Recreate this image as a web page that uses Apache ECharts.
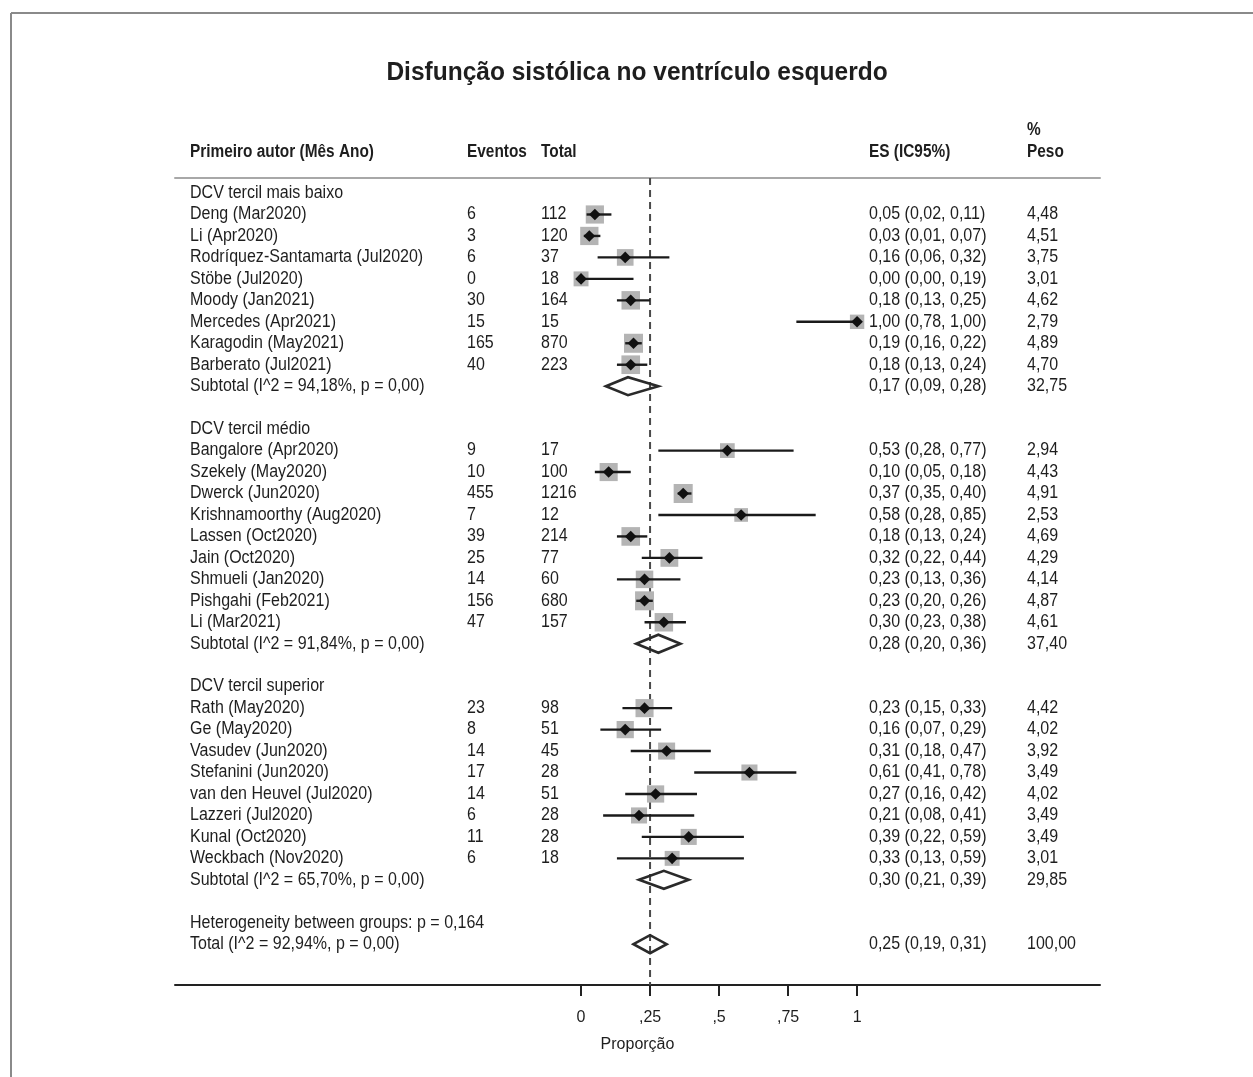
<!DOCTYPE html>
<html>
<head>
<meta charset="utf-8">
<script src="https://cdn.jsdelivr.net/npm/echarts@6/dist/echarts.min.js"></script>
<style>
html,body{margin:0;padding:0;background:#fff;}
#chart{width:1253px;height:1077px;}
</style>
</head>
<body>
<div id="chart"></div>
<script>
// ---------- DATA ----------
const chartTitle = 'Disfunção sistólica no ventrículo esquerdo';
const headerLabels = ['Primeiro autor (Mês Ano)', 'Eventos', 'Total', 'ES (IC95%)', '%', 'Peso'];
const axisName = 'Proporção';
const tickValues = [0, 0.25, 0.5, 0.75, 1];
const tickLabels = ['0', ',25', ',5', ',75', '1'];

const groupTitles = ['DCV tercil mais baixo', 'DCV tercil médio', 'DCV tercil superior'];

const studyNames = [
  'Deng (Mar2020)', 'Li (Apr2020)', 'Rodríquez-Santamarta (Jul2020)', 'Stöbe (Jul2020)',
  'Moody (Jan2021)', 'Mercedes (Apr2021)', 'Karagodin (May2021)', 'Barberato (Jul2021)',
  'Bangalore (Apr2020)', 'Szekely (May2020)', 'Dwerck (Jun2020)', 'Krishnamoorthy (Aug2020)',
  'Lassen (Oct2020)', 'Jain (Oct2020)', 'Shmueli (Jan2020)', 'Pishgahi (Feb2021)', 'Li (Mar2021)',
  'Rath (May2020)', 'Ge (May2020)', 'Vasudev (Jun2020)', 'Stefanini (Jun2020)',
  'van den Heuvel (Jul2020)', 'Lazzeri (Jul2020)', 'Kunal (Oct2020)', 'Weckbach (Nov2020)'
];
const studyGroup = [0,0,0,0,0,0,0,0, 1,1,1,1,1,1,1,1,1, 2,2,2,2,2,2,2,2];
const events  = [6, 3, 6, 0, 30, 15, 165, 40,  9, 10, 455, 7, 39, 25, 14, 156, 47,  23, 8, 14, 17, 14, 6, 11, 6];
const totals  = [112, 120, 37, 18, 164, 15, 870, 223,  17, 100, 1216, 12, 214, 77, 60, 680, 157,  98, 51, 45, 28, 51, 28, 28, 18];
const es      = [0.05, 0.03, 0.16, 0.00, 0.18, 1.00, 0.19, 0.18,  0.53, 0.10, 0.37, 0.58, 0.18, 0.32, 0.23, 0.23, 0.30,  0.23, 0.16, 0.31, 0.61, 0.27, 0.21, 0.39, 0.33];
const lowerCI = [0.02, 0.01, 0.06, 0.00, 0.13, 0.78, 0.16, 0.13,  0.28, 0.05, 0.35, 0.28, 0.13, 0.22, 0.13, 0.20, 0.23,  0.15, 0.07, 0.18, 0.41, 0.16, 0.08, 0.22, 0.13];
const upperCI = [0.11, 0.07, 0.32, 0.19, 0.25, 1.00, 0.22, 0.24,  0.77, 0.18, 0.40, 0.85, 0.24, 0.44, 0.36, 0.26, 0.38,  0.33, 0.29, 0.47, 0.78, 0.42, 0.41, 0.59, 0.59];
const weights = [4.48, 4.51, 3.75, 3.01, 4.62, 2.79, 4.89, 4.70,  2.94, 4.43, 4.91, 2.53, 4.69, 4.29, 4.14, 4.87, 4.61,  4.42, 4.02, 3.92, 3.49, 4.02, 3.49, 3.49, 3.01];

const subtotalLabels  = ['Subtotal (I^2 = 94,18%, p = 0,00)', 'Subtotal (I^2 = 91,84%, p = 0,00)', 'Subtotal (I^2 = 65,70%, p = 0,00)'];
const subtotalES      = [0.17, 0.28, 0.30];
const subtotalLower   = [0.09, 0.20, 0.21];
const subtotalUpper   = [0.28, 0.36, 0.39];
const subtotalWeights = [32.75, 37.40, 29.85];

const heterogeneityLabel = 'Heterogeneity between groups: p = 0,164';
const totalLabel  = 'Total (I^2 = 92,94%, p = 0,00)';
const totalES     = 0.25;
const totalLower  = 0.19;
const totalUpper  = 0.31;
const totalWeight = 100.00;

// ---------- ROW LAYOUT ----------
const fmt = v => v.toFixed(2).replace('.', ',');
const rows = [];
groupTitles.forEach((gt, g) => {
  rows.push({ type: 'header', name: gt });
  studyNames.forEach((n, i) => {
    if (studyGroup[i] !== g) return;
    rows.push({ type: 'study', name: n, ev: String(events[i]), tot: String(totals[i]),
      es: es[i], lo: lowerCI[i], hi: upperCI[i], w: weights[i] });
  });
  rows.push({ type: 'pooled', name: subtotalLabels[g], es: subtotalES[g], lo: subtotalLower[g], hi: subtotalUpper[g], w: subtotalWeights[g] });
  rows.push({ type: 'blank' });
});
rows.push({ type: 'het', name: heterogeneityLabel });
rows.push({ type: 'pooled', name: totalLabel, es: totalES, lo: totalLower, hi: totalUpper, w: totalWeight });
rows.forEach((r, i) => r.row = i);

const studyRows = rows.filter(r => r.type === 'study');
const pooledRows = rows.filter(r => r.type === 'pooled');

// ---------- STYLE ----------
const FONT = "'Liberation Sans Narrow', 'Arial Narrow', 'Liberation Sans', Arial, sans-serif";
const TXT = '#1e1e1e';
const COL = { name: 190, ev: 467, tot: 541, es: 869, w: 1027 };
const BODY_SX = 0.915;
const HEAD_SX = 0.88;

function headText(x, y, s, extra) {
  return Object.assign({ type: 'text', x: x, y: y, scaleX: HEAD_SX,
    style: { text: s, font: "bold 17.5px " + FONT, fill: TXT, textAlign: 'left', textVerticalAlign: 'middle' } }, extra || {});
}

const chart = echarts.init(document.getElementById('chart'), null, { renderer: 'canvas' });

const option = {
  backgroundColor: '#ffffff',
  animation: false,
  graphic: [
    { type: 'line', shape: { x1: 11, y1: 13, x2: 1253, y2: 13 }, style: { stroke: '#8a8a8a', lineWidth: 2 } },
    { type: 'line', shape: { x1: 11, y1: 13, x2: 11, y2: 1077 }, style: { stroke: '#8a8a8a', lineWidth: 2 } },
    { type: 'text', x: 637, y: 73, scaleX: 0.925,
      style: { text: chartTitle, font: "bold 26.5px " + FONT, fill: TXT, textAlign: 'center', textVerticalAlign: 'middle' } },
    headText(COL.name, 152, headerLabels[0]),
    headText(COL.ev, 152, headerLabels[1]),
    headText(COL.tot, 152, headerLabels[2]),
    headText(COL.es, 152, headerLabels[3]),
    headText(COL.w, 130, headerLabels[4]),
    headText(COL.w, 152, headerLabels[5])
  ],
  grid: { left: 175, right: 153, top: 178, bottom: 92, containLabel: false },
  xAxis: [
    {
      type: 'value', position: 'bottom',
      min: -1.471, max: 1.880,
      splitLine: { show: false },
      axisLine: { show: true, onZero: false, lineStyle: { color: '#222', width: 2 } },
      axisTick: { show: true, length: 11, lineStyle: { color: '#222', width: 2 }, customValues: tickValues },
      axisLabel: {
        show: true, margin: 25, color: TXT, fontSize: 16, fontFamily: FONT,
        customValues: tickValues,
        formatter: v => { const k = tickValues.findIndex(t => Math.abs(t - v) < 1e-6); return k >= 0 ? tickLabels[k] : ''; }
      },
      name: axisName, nameLocation: 'middle', nameGap: 52,
      nameTextStyle: { color: TXT, fontSize: 16, fontFamily: FONT }
    },
    {
      type: 'value', position: 'top',
      min: -1.471, max: 1.880,
      splitLine: { show: false },
      axisLine: { show: true, onZero: false, lineStyle: { color: '#a8a8a8', width: 2 } },
      axisTick: { show: false }, axisLabel: { show: false }
    }
  ],
  yAxis: {
    type: 'value', inverse: true, min: -0.7, max: 36.9,
    show: false, splitLine: { show: false }
  },
  series: [
    {
      // reference dashed line at overall estimate
      type: 'line', xAxisIndex: 0, symbol: 'none', silent: true, z: 1,
      data: [[totalES, -0.7], [totalES, 36.9]],
      lineStyle: { color: '#4a4a4a', width: 2, type: [7, 5] }
    },
    {
      // study markers: weight square, CI line, point diamond
      type: 'custom', xAxisIndex: 0, z: 3,
      data: studyRows.map(r => [r.es, r.row, r.lo, r.hi, r.w]),
      renderItem: function (params, api) {
        const p = api.coord([api.value(0), api.value(1)]);
        const lo = api.coord([api.value(2), api.value(1)]);
        const hi = api.coord([api.value(3), api.value(1)]);
        const side = 8.6 * Math.sqrt(api.value(4));
        const d = 5.8;
        return {
          type: 'group',
          children: [
            { type: 'rect', shape: { x: p[0] - side / 2, y: p[1] - side / 2, width: side, height: side }, style: { fill: '#b4b4b4' } },
            { type: 'line', shape: { x1: lo[0], y1: p[1], x2: hi[0], y2: p[1] }, style: { stroke: '#1a1a1a', lineWidth: 2.4 } },
            { type: 'polygon', shape: { points: [[p[0] - d, p[1]], [p[0], p[1] - d], [p[0] + d, p[1]], [p[0], p[1] + d]] }, style: { fill: '#111' } }
          ]
        };
      }
    },
    {
      // pooled diamonds
      type: 'custom', xAxisIndex: 0, z: 4,
      data: pooledRows.map(r => [r.es, r.row, r.lo, r.hi]),
      renderItem: function (params, api) {
        const p = api.coord([api.value(0), api.value(1)]);
        const lo = api.coord([api.value(2), api.value(1)]);
        const hi = api.coord([api.value(3), api.value(1)]);
        const h = 9;
        return {
          type: 'polygon',
          shape: { points: [[lo[0], p[1]], [p[0], p[1] - h], [hi[0], p[1]], [p[0], p[1] + h]] },
          style: { fill: 'none', stroke: '#2a2a2a', lineWidth: 2.6, lineJoin: 'miter' }
        };
      }
    },
    {
      // table text
      type: 'custom', xAxisIndex: 0, z: 5, silent: true,
      data: rows.map(r => [0, r.row]),
      renderItem: function (params, api) {
        const r = rows[params.dataIndex];
        const y = api.coord([0, api.value(1)])[1];
        const kids = [];
        const t = (x, s) => kids.push({ type: 'text', x: x, y: y, scaleX: BODY_SX,
          style: { x: 0, y: 0, text: s, font: '17.5px ' + FONT, fill: TXT, textAlign: 'left', textVerticalAlign: 'middle' } });
        if (r.type === 'blank') return { type: 'group', children: [] };
        t(COL.name, r.name);
        if (r.type === 'study') {
          t(COL.ev, r.ev);
          t(COL.tot, r.tot);
        }
        if (r.type === 'study' || r.type === 'pooled') {
          t(COL.es, fmt(r.es) + ' (' + fmt(r.lo) + ', ' + fmt(r.hi) + ')');
          t(COL.w, fmt(r.w));
        }
        return { type: 'group', children: kids };
      }
    }
  ]
};
chart.setOption(option);
</script>
</body>
</html>
